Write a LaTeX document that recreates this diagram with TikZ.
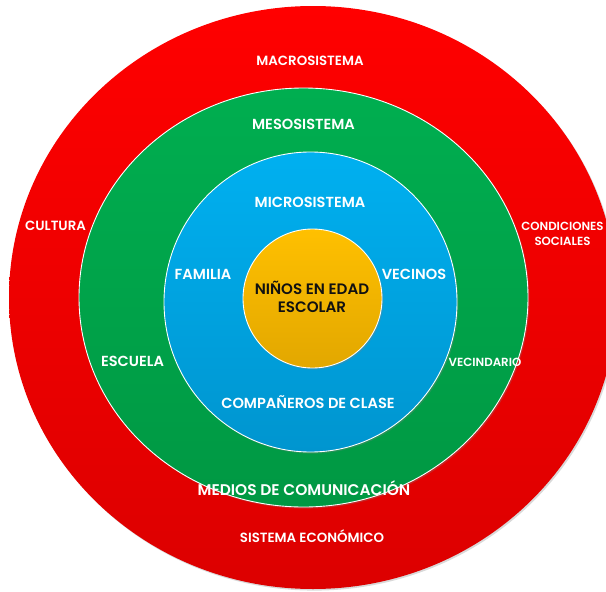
\documentclass[tikz,border=0pt]{standalone}
\usepackage{fontspec}
\setmainfont{Poppins}[BoldFont={Poppins SemiBold}]
\usetikzlibrary{shadows}
\definecolor{EcoRed}{HTML}{FF0000}
\definecolor{EcoRedDeep}{HTML}{DC0000}
\definecolor{EcoGreen}{HTML}{00AE50}
\definecolor{EcoGreenDeep}{HTML}{009843}
\definecolor{EcoBlue}{HTML}{00B0F0}
\definecolor{EcoBlueDeep}{HTML}{0095CF}
\definecolor{EcoGold}{HTML}{FFC000}
\definecolor{EcoGoldDeep}{HTML}{E2A700}
\definecolor{EcoInk}{HTML}{111111}
\tikzset{
  ring/.style={shade,line width=0.5pt,
               drop shadow={shadow xshift=0.8pt,shadow yshift=-0.9pt,opacity=0.3}},
  ringred/.style={ring,top color=EcoRed,bottom color=EcoRedDeep},
  ringgreen/.style={ring,draw=white,top color=EcoGreen,bottom color=EcoGreenDeep},
  ringblue/.style={ring,draw=white,top color=EcoBlue,bottom color=EcoBlueDeep},
  ringgold/.style={ring,draw=white,top color=EcoGold,bottom color=EcoGoldDeep},
  lbl/.style={text=white,font=\fontsize{8.3}{9.6}\selectfont\bfseries,align=center,inner sep=0pt},
  lblwide/.style={lbl,font=\fontsize{8.8}{9.6}\selectfont\bfseries},
  lblmid/.style={lbl,font=\fontsize{7.6}{8.9}\selectfont\bfseries},
  lblsmall/.style={lbl,font=\fontsize{6.7}{8.9}\selectfont\bfseries},
  lblcore/.style={lbl,text=EcoInk,font=\fontsize{8.6}{10.2}\selectfont\bfseries},
}

\begin{document}
\begin{tikzpicture}[x=0.02cm,y=-0.02cm]
  \useasboundingbox (0,0) rectangle (606,592);
  \begin{scope}
    \clip (0,0) rectangle (606,592);
    % the four nested systems, outside in
    \path[ringred]   (313,297.5) ellipse [x radius=304,y radius=291.5];
    \path[ringgreen] (303.5,297.5) ellipse [x radius=224.5,y radius=209.5];
    \path[ringblue]  (310.5,302) ellipse [x radius=146.5,y radius=150];
    \path[ringgold]  (312.5,298.5) ellipse [x radius=69.5,y radius=69.5];
  \end{scope}

  % macrosystem
  \node[lblmid] (macro) at (310,61) {MACROSISTEMA};
  \node[lblmid] (cultura) at (55.5,226) {CULTURA};
  \node[lblsmall] (condiciones) at (562.5,234) {CONDICIONES\\SOCIALES};
  \node[lblmid] (economico) at (312,536) {SISTEMA ECONÓMICO};

  % mesosystem
  \node[lbl] (meso) at (303.5,124) {MESOSISTEMA};
  \node[lbl] (escuela) at (132.5,361) {ESCUELA};
  \node[lblsmall] (vecindario) at (485,362.5) {VECINDARIO};
  \node[lblwide] (medios) at (304,488) {MEDIOS DE COMUNICACIÓN};

  % microsystem
  \node[lbl] (micro) at (310,202) {MICROSISTEMA};
  \node[lbl] (familia) at (203,274) {FAMILIA};
  \node[lbl] (vecinos) at (414,274) {VECINOS};
  \node[lbl] (companeros) at (308,402) {COMPAÑEROS DE CLASE};

  % the child at the centre
  \node[lblcore] (ninos) at (312,297) {NIÑOS EN EDAD\\ESCOLAR};
\end{tikzpicture}
\end{document}
